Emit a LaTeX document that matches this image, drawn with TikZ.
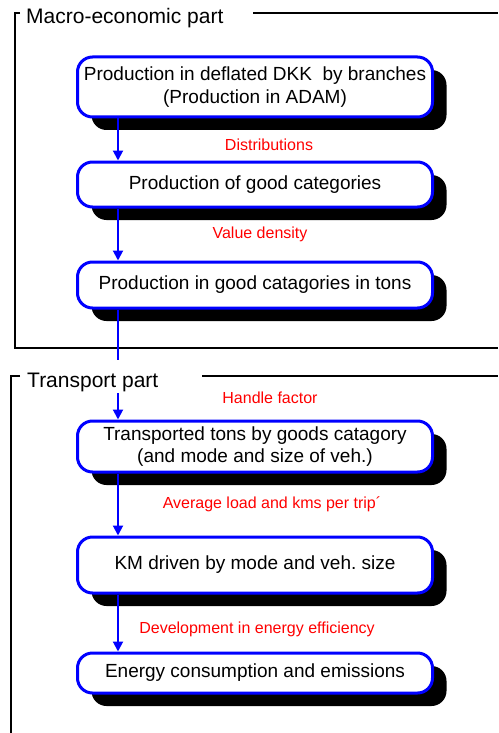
\documentclass[tikz,border=0pt]{standalone}
\usepackage{fontspec}
\setmainfont{Liberation Sans}
\usetikzlibrary{shadows,arrows.meta}
\frenchspacing
\begin{document}
\begin{tikzpicture}[x=1pt,y=-1pt,
  stepbox/.style={draw=blue, line width=3pt, fill=white, rounded corners=15pt,
    minimum width=355pt, align=center, inner sep=2pt,
    font=\fontsize{19pt}{22.5pt}\selectfont,
    general shadow={fill=black, shadow xshift=14pt, shadow yshift=-13pt}},
  arr/.style={draw=blue, line width=2pt, -{Triangle[width=10pt,length=10pt]}},
  plainline/.style={draw=blue, line width=2pt},
  note/.style={text=red, font=\fontsize{16pt}{19pt}\selectfont, inner sep=0pt},
  frame/.style={draw=black, line width=1.5pt},
  title/.style={font=\fontsize{21pt}{25pt}\selectfont, inner sep=0pt, anchor=base west}]
\useasboundingbox (0,0) rectangle (498,733);
% frames
\draw[frame] (20,13) -- (15,13) -- (15,348) -- (498,348);
\draw[frame] (253,13) -- (498,13);
\node[title] (macro) at (26,24) {Macro-economic part};
\draw[frame] (20,376) -- (11,376) -- (11,733);
\draw[frame] (202,376) -- (498,376);
\node[title] (transport) at (27,387) {Transport part};
% boxes
\node[stepbox, minimum height=60pt] (b1) at (255,87) {Production in deflated DKK \ by branches\\(Production in ADAM)};
\node[stepbox, minimum height=45pt] (b2) at (255,184.5) {Production of good categories};
\node[stepbox, minimum height=46pt] (b3) at (255,285) {Production in good catagories in tons};
\node[stepbox, minimum height=51pt] (b4) at (255,446.5) {Transported tons by goods catagory\\(and mode and size of veh.)};
\node[stepbox, minimum height=56pt] (b5) at (255,565) {KM driven by mode and veh. size};
\node[stepbox, minimum height=40pt] (b6) at (255,673) {Energy consumption and emissions};
% connectors
\coordinate (ax) at (118,0);
\coordinate (gapA) at (118,360);
\coordinate (gapB) at (118,393);
\draw[arr] (b1.south -| ax) -- (b2.north -| ax);
\draw[arr] (b2.south -| ax) -- (b3.north -| ax);
\draw[plainline] (b3.south -| ax) -- (gapA);
\draw[arr] (gapB) -- (b4.north -| ax);
\draw[arr] (b4.south -| ax) -- (b5.north -| ax);
\draw[arr] (b5.south -| ax) -- (b6.north -| ax);
% labels
\node[note] (l1) at (269,145) {Distributions};
\node[note] (l2) at (260,234) {Value density};
\node[note] (l3) at (270,398) {Handle factor};
\node[note] (l4) at (272,504) {Average load and kms per trip´};
\node[note] (l5) at (257,629) {Development in energy efficiency};
\end{tikzpicture}
\end{document}
